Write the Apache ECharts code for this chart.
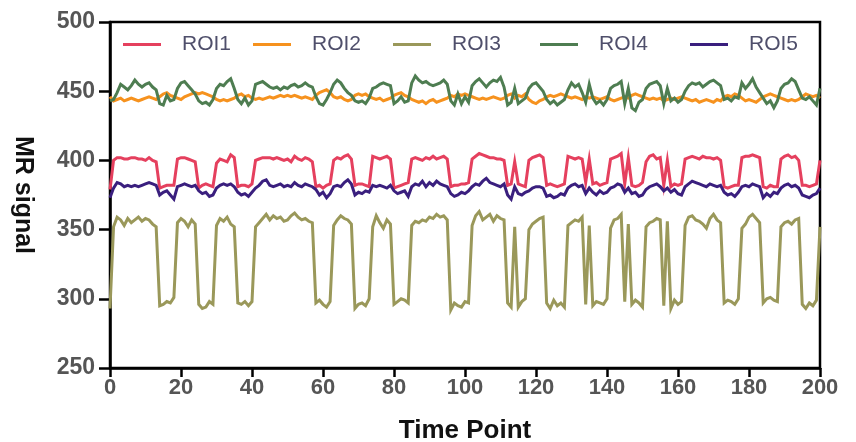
<!DOCTYPE html>
<html>
<head>
<meta charset="utf-8">
<script src="https://cdn.jsdelivr.net/npm/echarts@6/dist/echarts.min.js"></script>
<style>
  html, body { margin: 0; padding: 0; background: #fff; }
  #chart { width: 856px; height: 442px; }
</style>
</head>
<body>
<div id="chart"></div>
<script>
// MR signal per time point (0..200) for five regions of interest
const seriesNames = ['ROI1', 'ROI2', 'ROI3', 'ROI4', 'ROI5'];
const xTicks = [0, 20, 40, 60, 80, 100, 120, 140, 160, 180, 200];
const yTicks = [250, 300, 350, 400, 450, 500];

const roi1 = [379,
  400,402,402,401,401,402,402,401,401,400,402,400,399,
  380,381,382,382,382,
  401,402,402,401,400,399,
  380,382,383,382,381,
  398,401,400,399,404,402,
  381,382,382,381,383,
  400,401,402,402,402,401,402,401,400,401,399,403,401,400,402,401,399,
  381,382,380,382,383,
  400,402,401,403,404,401,
  382,383,383,382,381,
  403,402,401,402,403,401,
  380,381,382,383,384,
  401,402,401,400,402,401,403,401,402,403,401,
  381,382,382,383,383,384,
  401,403,405,404,403,402,402,401,401,400,
  382,383,
  399,
  383,382,381,
  400,402,403,404,402,
  382,383,382,381,382,383,
  403,402,401,402,401,
  384,
  401,
  383,384,382,383,384,
  401,402,403,405,
  383,
  402,
  382,381,382,384,
  399,403,404,401,402,
  382,
  400,
  381,383,382,383,
  401,402,403,402,401,403,402,402,401,402,400,
  381,380,381,382,382,
  402,403,403,404,403,402,
  381,380,382,381,381,
  401,403,404,402,403,400,
  382,382,381,382,383,
  400];

const roi2 = [446,
  443,444,445,443,444,445,444,443,444,445,446,445,444,
  446,448,449,447,446,
  445,444,446,447,448,449,
  448,449,448,447,446,
  444,443,444,443,444,445,
  447,448,446,447,445,
  444,445,444,445,446,445,446,447,446,447,446,447,446,445,446,445,444,
  447,449,450,451,449,
  446,445,446,444,443,444,
  447,448,447,448,446,
  445,444,445,443,444,445,
  447,448,449,447,446,
  444,443,442,443,441,443,444,442,443,444,445,
  447,446,448,447,448,447,
  446,445,444,445,444,445,446,445,444,445,
  447,448,
  445,
  447,446,448,
  444,442,441,443,444,
  446,447,446,447,448,447,
  446,445,446,445,444,
  446,
  445,
  446,445,444,445,446,
  444,443,444,445,
  446,
  445,
  447,448,447,446,
  445,444,445,444,445,
  443,
  444,
  445,444,445,446,
  445,444,443,444,442,443,444,443,442,444,443,
  446,447,446,448,447,
  445,443,444,443,442,444,
  446,447,448,447,446,
  445,444,443,444,443,444,
  446,448,447,446,447,
  445];

const roi3 = [293,
  352,359,357,353,358,355,357,359,356,358,357,354,352,
  295,296,298,297,301,
  355,358,356,352,357,354,
  296,293,294,298,296,
  353,358,356,359,354,352,
  297,296,298,295,298,
  352,355,358,361,357,360,358,359,356,357,360,362,359,357,358,356,355,
  297,299,296,294,298,
  353,357,360,358,357,354,
  293,296,297,295,300,
  352,360,355,351,357,354,
  296,298,300,299,297,
  353,356,355,357,356,359,358,361,359,360,357,
  292,297,295,294,298,297,
  353,360,363,357,359,361,356,360,358,357,
  297,294,
  352,
  294,298,300,
  350,354,356,358,359,
  297,293,299,295,297,294,
  353,355,357,356,359,
  296,
  353,
  295,298,297,296,300,
  351,357,358,361,
  298,
  354,
  296,299,297,294,
  352,355,356,358,357,
  295,
  356,
  293,299,296,298,
  353,359,360,357,356,354,351,358,361,357,355,
  297,299,298,296,300,
  351,354,359,361,358,355,
  297,300,301,299,298,
  352,355,356,354,357,358,
  296,293,297,295,299,
  352];

const roi4 = [443,
  444,449,455,453,451,454,458,455,453,455,456,453,451,
  441,440,447,443,444,
  452,456,457,454,451,448,
  443,441,442,440,444,
  452,455,454,457,459,452,
  444,441,445,440,443,
  455,456,457,455,453,452,453,451,453,452,454,455,453,454,456,454,453,
  446,441,440,444,449,
  455,458,456,452,449,447,
  443,442,443,441,445,
  452,453,455,456,455,454,
  441,443,446,442,443,
  456,461,458,456,457,455,454,455,456,458,455,
  443,440,448,441,446,442,
  454,457,459,456,453,456,458,457,460,453,
  440,442,
  452,
  441,443,445,
  452,455,456,453,450,
  444,441,443,440,442,444,
  451,456,453,455,449,
  442,
  455,
  445,441,443,440,444,
  452,454,455,457,
  441,
  452,
  438,436,442,444,
  452,455,456,457,454,
  441,
  452,
  443,445,442,444,
  450,454,456,455,456,453,455,457,458,456,454,
  444,445,443,446,445,
  456,452,455,459,453,449,
  445,441,443,438,443,
  452,455,456,459,457,451,
  445,444,446,443,440,
  452];

const roi5 = [373,
  380,384,383,381,382,381,382,381,382,383,384,383,382,
  375,377,378,375,372,
  381,382,383,382,381,382,
  378,376,377,374,375,
  380,382,383,382,383,381,
  377,375,376,374,377,
  380,382,385,386,382,381,382,383,381,382,381,384,382,381,383,382,381,
  379,375,377,373,376,
  381,382,381,384,386,383,
  375,377,376,378,377,
  382,381,382,381,380,382,
  378,376,377,378,374,
  381,383,382,385,381,384,382,385,383,382,381,
  376,374,375,377,376,378,
  381,383,382,385,387,384,383,382,381,383,
  375,372,
  381,
  376,375,377,
  378,380,381,381,380,
  374,375,373,374,376,375,
  380,382,383,381,382,
  376,
  380,
  377,375,378,376,377,
  380,381,383,382,
  377,
  380,
  376,377,374,375,
  379,381,382,383,381,
  378,
  380,
  377,379,376,375,
  381,383,385,384,383,382,381,383,382,381,382,
  377,375,376,374,377,
  381,382,381,383,382,381,
  373,376,374,377,376,
  380,382,383,381,382,380,
  375,374,373,375,376,
  380];

const seriesValues = [roi1, roi2, roi3, roi4, roi5];
const seriesColors = ['#E5405E', '#F6921E', '#9A985A', '#4E7D51', '#3A1F7E'];
const legendLeft = [123, 253, 393, 540, 690];

const FONT = '"Liberation Sans", Arial, Helvetica, sans-serif';

const chart = echarts.init(document.getElementById('chart'), null, { renderer: 'canvas' });

const option = {
  backgroundColor: '#ffffff',
  animation: false,
  textStyle: { fontFamily: FONT },
  grid: {
    left: 110, right: 36, top: 22, bottom: 74,
    containLabel: false,
    outerBoundsMode: 'none',
    show: true, borderColor: '#000', borderWidth: 2.5, backgroundColor: 'transparent'
  },
  legend: seriesNames.map((name, i) => ({
    data: [name],
    left: legendLeft[i],
    top: 34,
    padding: 0,
    itemWidth: 38,
    itemHeight: 22,
    icon: 'path://M0,10 L38,10 L38,13 L0,13 Z',
    selectedMode: false,
    textStyle: {
      fontFamily: FONT, fontSize: 21, color: '#4F4F6B',
      padding: [0, 0, 0, 16]
    }
  })),
  xAxis: {
    type: 'value',
    min: xTicks[0],
    max: xTicks[xTicks.length - 1],
    interval: xTicks[1] - xTicks[0],
    name: 'Time Point',
    nameLocation: 'middle',
    nameGap: 50,
    nameTextStyle: { fontFamily: FONT, fontSize: 26, fontWeight: 'bold', color: '#111' },
    axisLine: { show: true, lineStyle: { color: '#000', width: 2.5 } },
    axisTick: { show: true, inside: false, length: 9, lineStyle: { color: '#000', width: 2.5 } },
    axisLabel: { fontFamily: FONT, fontSize: 22, fontWeight: 'bold', color: '#555', margin: 9 },
    splitLine: { show: false }
  },
  yAxis: {
    type: 'value',
    min: yTicks[0],
    max: yTicks[yTicks.length - 1],
    interval: yTicks[1] - yTicks[0],
    name: 'MR signal',
    nameLocation: 'middle',
    nameGap: 75,
    nameRotate: 270,
    nameTextStyle: { fontFamily: FONT, fontSize: 25, fontWeight: 'bold', color: '#111' },
    axisLine: { show: true, lineStyle: { color: '#000', width: 2.5 } },
    axisTick: { show: true, inside: false, length: 11, lineStyle: { color: '#000', width: 2.5 } },
    axisLabel: { fontFamily: FONT, fontSize: 23, fontWeight: 'bold', color: '#555', margin: 15 },
    splitLine: { show: false }
  },
  series: seriesNames.map((name, i) => ({
    name: name,
    type: 'line',
    symbol: 'none',
    showSymbol: false,
    color: seriesColors[i],
    lineStyle: { width: 3, color: seriesColors[i], join: 'miter' },
    data: seriesValues[i].map((v, t) => [t, v])
  }))
};

chart.setOption(option);
</script>
</body>
</html>
